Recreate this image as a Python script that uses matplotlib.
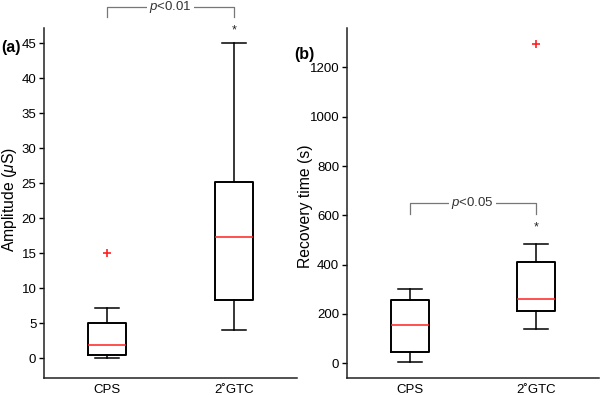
import matplotlib
matplotlib.use("Agg")
import matplotlib.pyplot as plt

plt.rcParams['font.family'] = ['Liberation Sans', 'DejaVu Sans']
plt.rcParams['mathtext.fontset'] = 'custom'
plt.rcParams['mathtext.rm'] = 'Liberation Sans'
plt.rcParams['mathtext.it'] = 'Liberation Sans:italic'
plt.rcParams['mathtext.bf'] = 'Liberation Sans:bold'

categories = ['CPS', '2\u02daGTC']

# Panel (a): Amplitude (uS)
amp_whislo = [0.0, 4.1]
amp_q1 = [0.45, 8.35]
amp_med = [1.9, 17.3]
amp_q3 = [5.1, 25.2]
amp_whishi = [7.15, 45.0]
amp_fliers = [[15.1], []]

# Panel (b): Recovery time (s)
rec_whislo = [5, 140]
rec_q1 = [45, 210]
rec_med = [157, 262]
rec_q3 = [255, 412]
rec_whishi = [300, 485]
rec_fliers = [[], [1295]]

fig = plt.figure(figsize=(6.0, 3.95), dpi=100)
axa = fig.add_axes([0.0733, 0.043, 0.4217, 0.886])
axb = fig.add_axes([0.578, 0.043, 0.42, 0.886])


def make_stats(lo, q1, med, q3, hi, fl):
    return [dict(whislo=lo[i], q1=q1[i], med=med[i], q3=q3[i], whishi=hi[i],
                 fliers=fl[i], label=categories[i]) for i in range(len(categories))]


def draw(ax, stats):
    ax.bxp(stats, positions=[1, 2], widths=0.3,
           boxprops=dict(color='black', linewidth=1.4),
           whiskerprops=dict(color='black', linewidth=1.1, linestyle='-'),
           capprops=dict(color='black', linewidth=1.1),
           capwidths=0.19,
           medianprops=dict(color='#ff2020', linewidth=1.1),
           flierprops=dict(marker='+', markeredgecolor='#ff2020', markersize=6,
                           markeredgewidth=1.2, linestyle='none'))
    ax.set_xlim(0.5, 2.5)
    for s in ['top', 'right']:
        ax.spines[s].set_visible(False)
    for s in ['left', 'bottom']:
        ax.spines[s].set_linewidth(1.1)
        ax.spines[s].set_color('#222222')
    ax.tick_params(axis='x', length=0, labelsize=9.5, pad=4.5)
    ax.tick_params(axis='y', length=3.5, width=1.0, labelsize=9.5, direction='out', pad=2)


def bracket(ax, x1, x2, ytop, ybot, text, ystar):
    col = '#777777'
    ax.plot([x1, x1, x2, x2], [ybot, ytop, ytop, ybot], color=col, lw=0.9, clip_on=False)
    ax.text((x1 + x2) / 2, ytop, text, ha='center', va='center', fontsize=9.5,
            color='#333333', bbox=dict(facecolor='white', edgecolor='none', pad=1.5),
            clip_on=False)
    ax.text(x2, ystar, '*', ha='center', va='center', fontsize=9, color='#222222',
            clip_on=False)


draw(axa, make_stats(amp_whislo, amp_q1, amp_med, amp_q3, amp_whishi, amp_fliers))
axa.set_ylim(-2.8, 47.2)
axa.set_yticks(range(0, 46, 5))
axa.set_ylabel(r'Amplitude ($\mu$S)', fontsize=11.3)
axa.yaxis.set_label_coords(-0.097, 0.51)
bracket(axa, 1, 2, 50.2, 48.8, r'$p$<0.01', 46.8)
fig.text(0.002, 0.881, '(a)', fontsize=11.5, fontweight='bold', va='center', ha='left')

draw(axb, make_stats(rec_whislo, rec_q1, rec_med, rec_q3, rec_whishi, rec_fliers))
axb.set_ylim(-60, 1360)
axb.set_yticks(range(0, 1201, 200))
axb.set_ylabel('Recovery time (s)', fontsize=11.3)
axb.yaxis.set_label_coords(-0.135, 0.49)
bracket(axb, 1, 2, 650, 605, r'$p$<0.05', 550)
fig.text(0.491, 0.861, '(b)', fontsize=11.5, fontweight='bold', va='center', ha='left')

fig.savefig('out.png', dpi=100)
